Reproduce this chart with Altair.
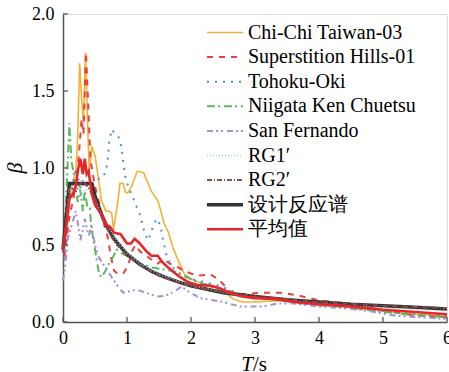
import altair as alt
import pandas as pd

# ---------------- data ----------------
series_names = ["Chi-Chi Taiwan-03", "Superstition Hills-01", "Tohoku-Oki",
                "Niigata Ken Chuetsu", "San Fernando", "RG1\u2032", "RG2\u2032",
                "设计反应谱", "平均值"]

T_chichi = [0.02, 0.06, 0.1, 0.15, 0.2, 0.23, 0.26, 0.29, 0.32, 0.35, 0.38, 0.41, 0.45, 0.5, 0.53,
            0.6, 0.67, 0.71, 0.76, 0.79, 0.85, 0.89, 0.94, 0.98, 1.02, 1.08, 1.16, 1.26, 1.38, 1.49,
            1.58, 1.65, 1.72, 1.8, 1.9, 2.0, 2.17, 2.32, 2.5, 2.65, 2.8, 3.0, 3.5, 4.0, 4.5, 5.0, 5.5, 6.0]
B_chichi = [0.45, 0.6, 0.8, 0.9, 0.98, 1.2, 1.68, 1.45, 1.3, 1.75, 1.35, 0.98, 1.14, 1.08, 1.0,
            0.79, 0.72, 0.72, 0.71, 0.60, 0.76, 0.90, 0.90, 0.84, 0.84, 0.89, 0.98, 0.97, 0.85, 0.78,
            0.64, 0.58, 0.48, 0.40, 0.31, 0.28, 0.25, 0.24, 0.21, 0.15, 0.13, 0.13, 0.14, 0.12, 0.10, 0.07, 0.05, 0.04]

T_sh = [0.02, 0.1, 0.17, 0.22, 0.26, 0.29, 0.32, 0.36, 0.4, 0.43, 0.5, 0.58, 0.65, 0.7, 0.75,
        0.8, 0.88, 0.95, 1.02, 1.08, 1.13, 1.2, 1.3, 1.4, 1.48, 1.58, 1.66, 1.78, 1.9, 2.1,
        2.3, 2.45, 2.6, 2.8, 3.1, 3.4, 3.65, 4.0, 4.45, 4.95, 5.45, 6.0]
B_sh = [0.42, 0.68, 0.82, 0.95, 1.15, 1.32, 1.22, 1.75, 1.35, 1.05, 0.88, 0.75, 0.62, 0.55, 0.42,
        0.33, 0.31, 0.32, 0.37, 0.46, 0.50, 0.46, 0.43, 0.40, 0.38, 0.41, 0.38, 0.36, 0.33, 0.30,
        0.31, 0.27, 0.20, 0.18, 0.19, 0.19, 0.175, 0.14, 0.12, 0.08, 0.045, 0.03]

T_th = [0.02, 0.1, 0.2, 0.28, 0.35, 0.42, 0.5, 0.58, 0.64, 0.69, 0.72, 0.76, 0.82, 0.87, 0.9,
        0.93, 0.97, 1.02, 1.1, 1.2, 1.28, 1.33, 1.39, 1.46, 1.52, 1.57, 1.62, 1.7, 1.8, 1.9,
        2.0, 2.2, 2.4, 2.6, 2.8, 3.0, 3.5, 4.0, 4.5, 5.0, 5.5, 6.0]
B_th = [0.40, 0.78, 1.00, 0.86, 0.92, 0.88, 0.90, 0.94, 0.95, 1.02, 1.16, 1.25, 1.22, 1.20, 1.16,
        1.08, 0.95, 0.88, 0.80, 0.70, 0.57, 0.53, 0.60, 0.67, 0.63, 0.52, 0.43, 0.36, 0.32, 0.30,
        0.28, 0.26, 0.24, 0.21, 0.17, 0.16, 0.14, 0.11, 0.10, 0.07, 0.05, 0.04]

T_ng = [0.02, 0.06, 0.1, 0.13, 0.16, 0.2, 0.23, 0.27, 0.31, 0.34, 0.38, 0.42, 0.44, 0.48, 0.52,
        0.56, 0.6, 0.66, 0.72, 0.78, 0.84, 0.94, 1.05, 1.2, 1.43, 1.6, 1.73, 1.94, 2.1, 2.25,
        2.45, 2.66, 2.9, 3.2, 3.6, 3.95, 4.3, 4.7, 5.0, 5.5, 6.0]
B_ng = [0.55, 0.9, 1.29, 1.05, 0.98, 0.86, 0.78, 0.86, 0.72, 0.85, 0.75, 0.74, 0.62, 0.52, 0.42,
        0.32, 0.29, 0.33, 0.38, 0.42, 0.47, 0.44, 0.42, 0.38, 0.35, 0.34, 0.33, 0.29, 0.26, 0.24,
        0.21, 0.19, 0.17, 0.15, 0.13, 0.11, 0.10, 0.08, 0.065, 0.045, 0.03]

T_sf = [0.0, 0.03, 0.08, 0.13, 0.2, 0.24, 0.27, 0.31, 0.34, 0.4, 0.45, 0.5, 0.56, 0.62, 0.7,
        0.78, 0.86, 0.94, 1.05, 1.15, 1.3, 1.46, 1.6, 1.75, 1.85, 1.95, 2.14, 2.5, 2.77, 3.1,
        3.36, 3.6, 4.0, 4.4, 4.8, 5.2, 5.6, 6.0]
B_sf = [0.27, 0.35, 0.55, 0.62, 0.72, 0.62, 0.53, 0.60, 0.67, 0.56, 0.62, 0.50, 0.42, 0.38, 0.33,
        0.28, 0.23, 0.19, 0.20, 0.21, 0.19, 0.165, 0.17, 0.20, 0.23, 0.20, 0.155, 0.13, 0.10, 0.10,
        0.12, 0.12, 0.10, 0.09, 0.07, 0.04, 0.03, 0.02]

T_rg1 = [0.0, 0.1, 0.2, 0.3, 0.4, 0.5, 0.6, 0.8, 1.0, 1.2, 1.5, 2.0, 2.5, 3.0, 4.0, 5.0, 6.0]
B_rg1 = [0.45, 0.85, 0.90, 0.82, 0.88, 0.80, 0.70, 0.55, 0.45, 0.38, 0.31, 0.24, 0.19, 0.16, 0.12, 0.09, 0.07]

T_rg2 = [0.0, 0.1, 0.2, 0.3, 0.4, 0.5, 0.6, 0.8, 1.0, 1.2, 1.5, 2.0, 2.5, 3.0, 4.0, 5.0, 6.0]
B_rg2 = [0.45, 0.88, 0.85, 0.92, 0.87, 0.80, 0.68, 0.52, 0.43, 0.37, 0.30, 0.23, 0.195, 0.165, 0.13, 0.105, 0.09]

T_design = [0.0, 0.1, 0.45, 0.5, 0.6, 0.7, 0.8, 0.9, 1.0, 1.2, 1.4, 1.6, 1.8, 2.0, 2.5, 3.0,
            3.5, 4.0, 4.5, 5.0, 5.5, 6.0]
B_design = [0.47, 0.9, 0.9, 0.82, 0.70, 0.61, 0.54, 0.49, 0.44, 0.375, 0.325, 0.29, 0.26, 0.235, 0.19, 0.165,
            0.145, 0.13, 0.115, 0.105, 0.095, 0.085]

T_mean = [0, 0.05, 0.1, 0.15, 0.2, 0.23, 0.27, 0.31, 0.34, 0.37, 0.40, 0.45, 0.5, 0.6, 0.68,
          0.73, 0.8, 0.9, 1.0, 1.06, 1.12, 1.2, 1.3, 1.38, 1.48, 1.55, 1.65, 1.8, 1.95, 2.1,
          2.3, 2.45, 2.6, 2.8, 3.0, 3.3, 3.7, 4.0, 4.5, 5.0, 5.5, 6.0]
B_mean = [0.48, 0.62, 0.80, 0.83, 0.88, 0.98, 1.06, 0.96, 1.06, 0.96, 0.98, 0.83, 0.76, 0.70, 0.63,
          0.62, 0.58, 0.57, 0.51, 0.51, 0.54, 0.51, 0.46, 0.43, 0.43, 0.39, 0.35, 0.30, 0.26, 0.24,
          0.235, 0.22, 0.19, 0.165, 0.155, 0.15, 0.125, 0.115, 0.10, 0.08, 0.065, 0.05]

x_ticks = [0, 1, 2, 3, 4, 5, 6]
y_ticks = [0.0, 0.5, 1.0, 1.5, 2.0]

# ---------------- styles ----------------
styles = {
    "Chi-Chi Taiwan-03":     dict(color="#f2b134", strokeWidth=1.6),
    "Superstition Hills-01": dict(color="#e8413c", strokeWidth=2.0, strokeDash=[6, 6]),
    "Tohoku-Oki":            dict(color="#4a8fd6", strokeWidth=2.0, strokeDash=[2, 6]),
    "Niigata Ken Chuetsu":   dict(color="#5db75e", strokeWidth=2.0, strokeDash=[8, 3, 2, 4]),
    "San Fernando":          dict(color="#a58fd0", strokeWidth=2.0, strokeDash=[6, 3, 2, 3, 2, 4]),
    "RG1\u2032":             dict(color="#8fd3e8", strokeWidth=1.5, strokeDash=[1, 2]),
    "RG2\u2032":             dict(color="#8b4c4c", strokeWidth=2.0, strokeDash=[5, 2, 1, 2]),
    "设计反应谱":             dict(color="#333333", strokeWidth=3.5),
    "平均值":                 dict(color="#e8262a", strokeWidth=2.6),
}

series_data = {
    "Chi-Chi Taiwan-03": (T_chichi, B_chichi),
    "Superstition Hills-01": (T_sh, B_sh),
    "Tohoku-Oki": (T_th, B_th),
    "Niigata Ken Chuetsu": (T_ng, B_ng),
    "San Fernando": (T_sf, B_sf),
    "RG1\u2032": (T_rg1, B_rg1),
    "RG2\u2032": (T_rg2, B_rg2),
    "设计反应谱": (T_design, B_design),
    "平均值": (T_mean, B_mean),
}
draw_order = ["Chi-Chi Taiwan-03", "Superstition Hills-01", "Tohoku-Oki", "Niigata Ken Chuetsu",
              "San Fernando", "设计反应谱", "RG1\u2032", "RG2\u2032", "平均值"]

W, H = 384, 308
FONT = "Liberation Serif"
AX = "#555555"

xs = alt.Scale(domain=[0, 6], nice=False, zero=False)
ys = alt.Scale(domain=[0, 2], nice=False, zero=False)

x_axis = alt.Axis(values=x_ticks, format="d", title=None, grid=False, ticks=False,
                  labelFont=FONT, labelFontSize=18, labelPadding=7,
                  labelFlush=False, labelOverlap=False, domainColor=AX, domainWidth=1.5)
y_axis = alt.Axis(values=y_ticks, format=".1f", title=None, grid=False, ticks=False,
                  labelFont=FONT, labelFontSize=18, labelPadding=9,
                  labelFlush=False, labelOverlap=False, domainColor=AX, domainWidth=1.5)

layers = []
for name in draw_order:
    T, B = series_data[name]
    df = pd.DataFrame({"T": T, "B": B})
    layers.append(
        alt.Chart(df).mark_line(interpolate="linear", **styles[name]).encode(
            x=alt.X("T:Q", scale=xs, axis=x_axis),
            y=alt.Y("B:Q", scale=ys, axis=y_axis),
        )
    )

# inward ticks
xt = alt.Chart(pd.DataFrame({"T": x_ticks})).mark_rule(color=AX, strokeWidth=1.3).encode(
    x=alt.X("T:Q", scale=xs, axis=x_axis), y=alt.value(H), y2=alt.value(H - 5))
yt = alt.Chart(pd.DataFrame({"B": y_ticks})).mark_rule(color=AX, strokeWidth=1.3).encode(
    y=alt.Y("B:Q", scale=ys, axis=y_axis), x=alt.value(0), x2=alt.value(5))
layers += [xt, yt]

# legend
LEG_Y0, LEG_DY = 18.5, 24.6
for i, name in enumerate(series_names):
    yy = LEG_Y0 + LEG_DY * i
    d = pd.DataFrame({"name": [name]})
    layers.append(alt.Chart(d).mark_rule(**styles[name]).encode(
        x=alt.value(144), x2=alt.value(180), y=alt.value(yy)))
    layers.append(alt.Chart(d).mark_text(align="left", baseline="middle", font=FONT,
                                         fontSize=20).encode(
        x=alt.value(185), y=alt.value(yy), text="name:N"))

# axis titles
layers.append(alt.Chart(pd.DataFrame({"t": ["β"]})).mark_text(
    font=FONT, fontSize=22, fontStyle="italic", angle=270,
    align="center", baseline="middle").encode(
    x=alt.value(-48), y=alt.value(154), text="t:N"))
layers.append(alt.Chart(pd.DataFrame({"t": ["T"]})).mark_text(
    font=FONT, fontSize=21, fontStyle="italic", align="right",
    baseline="alphabetic").encode(x=alt.value(190), y=alt.value(357), text="t:N"))
layers.append(alt.Chart(pd.DataFrame({"t": ["/s"]})).mark_text(
    font=FONT, fontSize=21, align="left",
    baseline="alphabetic").encode(x=alt.value(190), y=alt.value(357), text="t:N"))

chart = alt.layer(*layers).properties(
    width=W, height=H,
    autosize=alt.AutoSizeParams(type="none"),
    padding={"left": 63, "top": 14, "right": 2, "bottom": 50},
)

chart.save("out.html", embed_options={"renderer": "svg", "actions": False})
